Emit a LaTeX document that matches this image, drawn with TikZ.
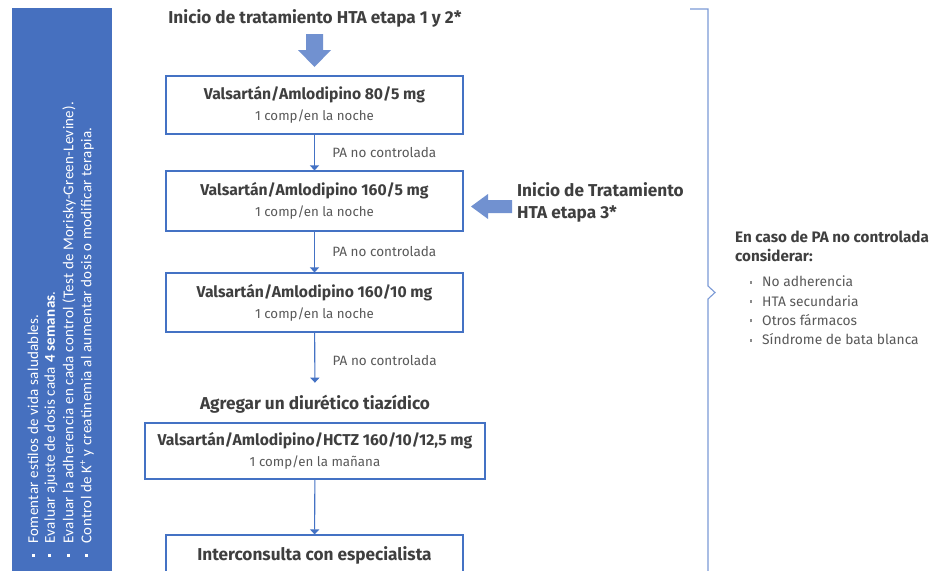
\documentclass[tikz,border=0pt]{standalone}
\usepackage{fontspec}
\setmainfont{Fira Sans}
\newfontfamily\barfont[LetterSpace=2]{Carlito}
\usetikzlibrary{arrows.meta}
\definecolor{mblue}{HTML}{4472C4}
\definecolor{barblue}{HTML}{4670BF}
\definecolor{lblue}{HTML}{7191D0}
\definecolor{brblue}{HTML}{7B9AD6}
\definecolor{dtext}{HTML}{3F3F3F}
\definecolor{gtext}{HTML}{595959}
\newcommand{\hdfont}{\fontsize{17.2}{20}\selectfont\bfseries}
\newcommand{\bxtfont}{\fontsize{15.7}{18}\selectfont\bfseries}
\newcommand{\bxsfont}{\fontsize{13.3}{15}\selectfont}
\newcommand{\grbul}{\textcolor{gtext!70}{\raisebox{3pt}{\rule{2pt}{3pt}}}\hspace{10pt}}
\newcommand{\whbul}{\raisebox{3.5pt}{\rule{2.5pt}{3pt}}\hspace{11pt}}
\begin{document}
\begin{tikzpicture}[x=1pt,y=-1pt,
  box/.style={draw=mblue, line width=1.1pt, minimum width=297pt, minimum height=58pt, inner sep=0pt, align=center, text=dtext},
  conn/.style={draw=mblue, line width=1.1pt, -{Triangle[length=5pt,width=9pt]}},
  lbl/.style={font=\fontsize{13.5}{15}\selectfont, text=gtext, anchor=west, xshift=14pt},
  head/.style={font=\hdfont, text=dtext, inner sep=0pt},
  bartext/.style={rotate=90, anchor=west, text=white, inner sep=0pt, font=\barfont\fontsize{15}{17}\selectfont},
  blockarrow/.style={fill=lblue, draw=none}
]
\useasboundingbox (0,0) rectangle (933,570);
\fill[white] (0,0) rectangle (933,570);

% left bar
\fill[barblue] (12,8) rectangle (112,575);
\node[bartext] (l1) at (33,557) {\whbul Fomentar estilos de vida saludables.};
\node[bartext] (l2) at (51,557) {\whbul Evaluar ajuste de dosis cada \textbf{4 semanas}.};
\node[bartext] (l3) at (69,557) {\whbul Evaluar la adherencia en cada control (Test de Morisky-Green-Levine).};
\node[bartext] (l4) at (87,557) {\whbul Control de K\textsuperscript{+} y creatinemia al aumentar dosis o modificar terapia.};

% top
\node[head] (t1) at (315,18) {Inicio de tratamiento HTA etapa 1 y 2*};
\fill[blockarrow] (306,34) -- (323,34) -- (323,50) -- (331,50) -- (314.5,67) -- (298,50) -- (306,50) -- cycle;

% boxes
\node[box] (b1) at (314.5,105) {{\bxtfont Valsartán/Amlodipino 80/5 mg}\\[6pt]{\bxsfont\color{gtext}1 comp/en la noche}};
\node[box, minimum height=60pt] (b2) at (314.5,201) {{\bxtfont Valsartán/Amlodipino 160/5 mg}\\[6pt]{\bxsfont\color{gtext}1 comp/en la noche}};
\node[box, minimum height=59pt] (b3) at (314.5,302.5) {{\bxtfont Valsartán/Amlodipino 160/10 mg}\\[6pt]{\bxsfont\color{gtext}1 comp/en la noche}};
\node[head] (agr) at (315,404) {Agregar un diurético tiazídico};
\node[box, minimum width=340pt, minimum height=56pt] (b4) at (315,451) {{\bxtfont Valsartán/Amlodipino/HCTZ 160/10/12,5 mg}\\[6pt]{\bxsfont\color{gtext}1 comp/en la mañana}};
\node[box, minimum height=40pt, font=\hdfont] (b5) at (314.5,555) {Interconsulta con especialista};

% connectors
\draw[conn] (b1) -- node[lbl] {PA no controlada} (b2);
\draw[conn] (b2) -- node[lbl] {PA no controlada} (b3);
\draw[conn, shorten >=12pt] (b3) -- node[lbl, yshift=3pt] {PA no controlada} (agr);
\draw[conn] (b4) -- (b5);

% etapa 3
\fill[blockarrow] (512,200) -- (488,200) -- (488,194) -- (471,206.5) -- (488,219) -- (488,213) -- (512,213) -- cycle;
\node[head, anchor=north west, align=left, font=\fontsize{17.2}{22}\selectfont\bfseries] (e3) at (517,182) {Inicio de Tratamiento\\HTA etapa 3*};

% brace
\draw[brblue, line width=1.1pt] (690,9) -- (708,9) -- (708,286) -- (715,292.5) -- (708,299) -- (708,575);

% right text
\node[anchor=north west, align=left, inner sep=0pt, text=dtext, font=\fontsize{15.2}{19}\selectfont\bfseries] (pa) at (735,231) {En caso de PA no controlada\\considerar:};
\node[anchor=north west, align=left, inner sep=0pt, text=gtext, font=\fontsize{13.8}{19.2}\selectfont] (lst) at (750,276) {\grbul No adherencia\\\grbul HTA secundaria\\\grbul Otros fármacos\\\grbul Síndrome de bata blanca};
\end{tikzpicture}
\end{document}
